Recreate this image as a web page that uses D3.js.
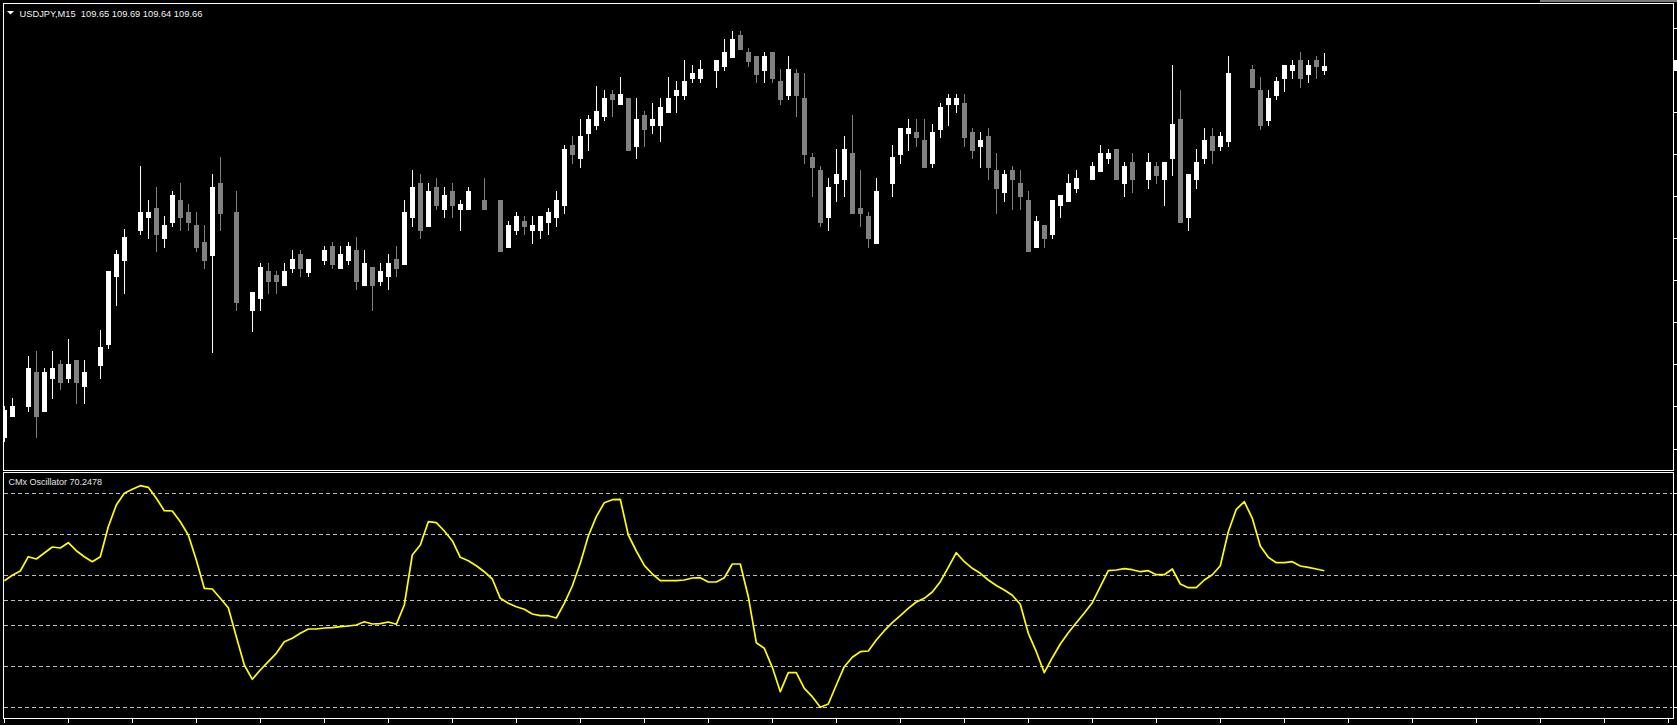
<!DOCTYPE html>
<html><head><meta charset="utf-8">
<script src="https://cdn.jsdelivr.net/npm/d3@7"></script>
<style>html,body{margin:0;padding:0;background:#000;overflow:hidden}</style>
</head><body>
<svg id="c" width="1677" height="725"></svg>
<script>
// ---------- data ----------
const symbolTitle = "USDJPY,M15";
const lastQuote = ["109.65", "109.69", "109.64", "109.66"];
const oscName = "CMx Oscillator";
const oscLast = "70.2478";

// OHLC per bar (null = doji drawn in background colour / invisible)
const openP = [
108.778,108.828,null,108.850,108.932,108.840,108.918,108.951,108.918,108.961,
108.899,null,108.949,108.999,109.161,109.199,null,109.270,109.301,109.322,
109.251,109.289,109.341,109.312,109.281,109.241,109.211,109.381,null,109.312,
null,109.080,109.109,109.172,109.162,109.139,109.180,109.212,109.170,null,
109.199,109.231,109.180,109.199,109.222,109.139,109.182,109.149,109.161,109.200,
109.189,109.301,109.381,109.280,109.372,109.320,109.362,109.320,109.320,null,
109.341,null,109.341,109.230,109.270,109.291,109.270,109.270,109.289,109.301,
109.330,109.471,109.441,109.501,109.520,109.541,109.593,109.570,109.583,109.470,
109.543,109.520,109.520,109.551,109.591,109.591,109.631,109.631,null,109.650,
109.660,109.681,109.733,109.692,109.683,109.650,109.692,109.624,109.591,109.643,
109.583,109.443,109.412,109.301,109.380,109.391,109.452,109.322,109.303,109.239,
null,109.380,109.451,109.501,109.502,109.483,109.429,109.510,109.570,109.570,
109.571,109.502,109.470,109.493,109.412,109.360,109.412,109.381,109.341,109.230,
109.281,109.261,109.330,109.339,109.370,null,109.391,109.410,109.441,109.462,
109.380,109.431,null,109.391,109.422,109.391,109.441,109.533,109.301,109.391,
109.441,109.493,109.469,109.481,null,null,109.652,109.602,109.531,109.590,
109.631,109.650,109.673,109.640,109.673,109.65];
const highP = [
108.850,108.870,null,108.970,108.982,108.942,108.982,108.961,109.010,108.961,
108.961,null,109.032,109.172,109.222,109.272,null,109.422,109.341,109.372,
109.303,109.362,109.381,109.331,109.312,109.281,109.403,109.443,null,109.362,
null,109.122,109.191,109.191,109.172,109.191,109.222,109.222,109.200,null,
109.231,109.241,109.231,109.241,109.253,109.222,109.182,109.191,109.212,109.231,
109.341,109.412,109.403,109.381,109.393,109.372,109.381,109.341,109.372,null,
109.393,null,109.341,109.291,109.312,109.303,109.303,109.303,109.322,109.362,
109.471,109.493,109.533,109.543,109.612,109.602,109.602,109.633,109.583,109.583,
109.552,109.571,109.583,109.633,109.624,109.673,109.662,109.673,null,109.673,
109.723,109.742,109.742,109.702,109.683,109.692,109.692,109.652,109.683,109.652,
109.643,109.452,109.422,109.393,109.462,109.493,109.543,109.412,109.312,109.393,
null,109.471,109.512,109.533,109.533,109.533,109.521,109.571,109.593,109.593,
109.593,109.512,109.502,109.512,109.452,109.412,109.422,109.412,109.362,109.303,
109.281,109.341,109.353,109.403,109.412,null,109.431,109.471,109.462,109.462,
109.431,109.452,null,109.452,109.431,109.431,109.662,109.602,109.403,109.462,
109.512,109.512,109.502,109.683,null,null,109.662,109.633,109.602,109.633,
109.662,109.673,109.692,109.673,109.683,109.69];
const lowP = [
108.768,108.827,null,108.840,108.778,108.840,108.869,108.891,108.909,108.859,
108.859,null,108.918,108.989,109.090,109.120,null,109.261,109.251,109.220,
109.230,109.280,109.270,109.270,109.220,109.180,108.980,109.270,null,109.080,
null,109.030,109.080,109.120,109.120,109.139,109.170,109.161,109.161,null,
109.189,109.180,109.180,109.189,109.130,109.139,109.080,109.139,109.130,109.161,
109.189,109.280,109.251,109.280,109.320,109.301,109.301,109.270,109.320,null,
109.320,null,109.220,109.230,109.261,109.261,109.239,109.251,109.261,109.280,
109.311,109.429,109.420,109.460,109.510,109.532,109.541,109.570,109.460,109.441,
109.470,109.501,109.482,109.551,109.551,109.581,109.622,109.622,null,109.610,
109.650,109.681,109.700,109.660,109.622,109.622,109.622,109.570,109.581,109.541,
109.429,109.351,109.280,109.270,109.339,109.351,109.311,109.280,109.230,109.239,
null,109.351,109.429,109.460,109.470,109.420,109.420,109.491,109.520,109.551,
109.470,109.441,109.420,109.391,109.311,109.339,109.320,109.320,109.220,109.230,
109.230,109.251,109.301,109.339,109.360,null,109.391,109.410,109.429,109.391,
109.351,109.360,null,109.370,109.380,109.330,109.401,109.289,109.270,109.369,
109.429,109.429,109.460,109.469,null,null,109.609,109.509,109.519,109.581,
109.600,109.631,109.609,109.621,109.631,109.64];
const closeP = [
108.842,108.851,null,108.942,108.828,108.932,108.942,108.909,108.951,108.909,
108.932,null,108.991,109.172,109.212,109.253,null,109.312,109.312,109.261,
109.281,109.353,109.301,109.289,109.230,109.199,109.372,109.311,null,109.099,
null,109.122,109.182,109.149,109.149,109.172,109.200,109.180,109.200,null,
109.222,109.189,109.212,109.231,109.149,109.191,109.139,109.172,109.191,109.180,
109.312,109.372,109.270,109.362,109.330,109.353,109.330,109.331,109.362,null,
109.320,null,109.220,109.281,109.303,109.280,109.281,109.303,109.312,109.341,
109.462,109.451,109.493,109.533,109.552,109.583,109.581,109.593,109.460,109.533,
109.510,109.533,109.562,109.583,109.602,109.624,109.643,109.652,null,109.673,
109.692,109.723,109.700,109.672,109.641,109.683,109.631,109.581,109.652,109.591,
109.451,109.420,109.289,109.372,109.403,109.462,109.311,109.311,109.251,109.362,
null,109.443,109.512,109.512,109.491,109.420,109.502,109.562,109.583,109.583,
109.491,109.460,109.483,109.420,109.370,109.403,109.391,109.351,109.220,109.291,
109.251,109.341,109.353,109.381,109.393,null,109.422,109.452,109.452,109.391,
109.422,109.391,null,109.431,109.401,109.431,109.521,109.289,109.403,109.431,
109.483,109.460,109.493,109.643,null,null,109.609,109.519,109.583,109.624,
109.662,109.662,109.631,109.662,109.659,109.66];

// oscillator value per bar
const oscValues = [
60.3,65.7,70.0,84.3,82.0,88.0,94.0,93.0,98.3,90.3,
84.3,79.3,84.3,114.3,136.0,147.7,151.7,155.3,153.7,142.7,
130.3,130.0,119.3,106.0,81.0,52.7,52.0,42.7,33.3,4.3,
-24.0,-38.3,-29.0,-20.7,-12.3,-0.7,2.7,7.7,12.0,12.0,
13.0,13.3,14.3,15.0,16.0,19.3,17.0,17.3,19.0,16.7,
36.0,86.0,96.0,119.3,118.3,110.0,100.3,83.7,80.3,75.3,
69.3,62.0,42.7,37.7,34.3,31.7,27.0,25.3,25.3,23.0,
37.7,55.0,77.7,105.0,124.3,138.3,141.3,141.7,106.0,90.0,
75.7,67.0,60.3,60.3,60.3,61.0,63.0,63.3,59.0,59.0,
63.3,77.0,77.0,44.3,-1.7,-7.3,-26.3,-50.7,-31.7,-31.7,
-47.3,-55.7,-66.3,-63.0,-44.0,-25.7,-16.3,-10.7,-10.0,1.0,
10.3,18.3,25.3,32.7,39.0,42.7,49.0,59.3,73.7,88.3,
79.3,72.7,67.7,61.0,55.5,51.0,45.7,36.7,7.7,-10.7,
-31.7,-16.7,-3.0,8.3,18.3,28.0,38.3,54.3,70.3,71.0,
72.3,71.3,69.3,70.3,66.3,66.3,72.0,57.0,53.3,53.3,
61.0,66.3,75.3,109.3,131.7,139.3,122.7,95.0,83.7,78.3,
78.3,79.3,75.0,73.7,72.0,70.2478];
const oscLevels = [147.7, 106.7, 65.7, 40.7, 15.7, -25.3, -66.3];
const priceTicks = [109.75,109.65,109.55,109.45,109.35,109.25,109.15,109.05,108.95,108.85,108.75];
const timeTickBars = d3.range(0, 209, 8);

// ---------- layout ----------
const L = 3, R = 1673, mainTop = 3, mainBot = 470, oscTop = 472, oscBot = 718;
const svg = d3.select("#c");
svg.append("rect").attr("width",1677).attr("height",725).attr("fill","#000");
// grey window edge visible along the top on the right
svg.append("rect").attr("x",1540).attr("y",0).attr("width",137).attr("height",2).attr("fill","#7a7a7a");

const x = d3.scaleLinear().domain([0, oscValues.length - 1]).range([4.3, 1324.3]);
const py = d3.scaleLinear().domain([108.699, 109.809]).range([mainBot, mainTop]);
const oy = d3.scaleLinear().domain([-77, 168]).range([oscBot, oscTop + 1]);

const defs = svg.append("defs");
defs.append("clipPath").attr("id","mainClip").append("rect")
  .attr("x", L+1).attr("y", mainTop+1).attr("width", R-L-1).attr("height", mainBot-mainTop-1);
defs.append("clipPath").attr("id","oscClip").append("rect")
  .attr("x", L+1).attr("y", oscTop+1).attr("width", R-L-1).attr("height", oscBot-oscTop-1);

// ---------- candles ----------
const bull = "#ffffff", bear = "#808080";
const bars = d3.range(openP.length).filter(i => openP[i] !== null);
const gC = svg.append("g").attr("clip-path","url(#mainClip)").attr("shape-rendering","crispEdges");
gC.selectAll("rect.wick").data(bars).join("rect").attr("class","wick")
  .attr("x", i => Math.round(x(i)))
  .attr("y", i => Math.round(py(highP[i])))
  .attr("width", 1)
  .attr("height", i => Math.max(1, Math.round(py(lowP[i])) - Math.round(py(highP[i])) + 1))
  .attr("fill", i => closeP[i] >= openP[i] ? bull : bear);
gC.selectAll("rect.body").data(bars).join("rect").attr("class","body")
  .attr("x", i => Math.round(x(i)) - 2)
  .attr("y", i => Math.round(py(Math.max(openP[i], closeP[i]))))
  .attr("width", 5)
  .attr("height", i => Math.max(1, Math.round(py(Math.min(openP[i], closeP[i]))) - Math.round(py(Math.max(openP[i], closeP[i]))) + 1))
  .attr("fill", i => closeP[i] >= openP[i] ? bull : bear);

// ---------- oscillator ----------
const gO = svg.append("g").attr("clip-path","url(#oscClip)");
gO.selectAll("line.lvl").data(oscLevels).join("line").attr("class","lvl")
  .attr("x1", L+1).attr("x2", R-1)
  .attr("y1", d => Math.round(oy(d)) + 0.5).attr("y2", d => Math.round(oy(d)) + 0.5)
  .attr("stroke", "#bdbdbd").attr("stroke-width", 1).attr("stroke-dasharray", "4,3");
gO.append("path").datum(oscValues)
  .attr("d", d3.line().x((d,i) => x(i)).y(d => oy(d)))
  .attr("fill","none").attr("stroke","#ffff00").attr("stroke-width",1.7).attr("stroke-linejoin","round");

// ---------- frames ----------
svg.append("rect").attr("x", L+0.5).attr("y", mainTop+0.5).attr("width", R-L).attr("height", mainBot-mainTop)
  .attr("fill","none").attr("stroke","#fff").attr("stroke-width",1).attr("shape-rendering","crispEdges");
svg.append("rect").attr("x", L+0.5).attr("y", oscTop+0.5).attr("width", R-L).attr("height", oscBot-oscTop)
  .attr("fill","none").attr("stroke","#fff").attr("stroke-width",1).attr("shape-rendering","crispEdges");

// ---------- axes (ticks only; labels fall outside the window) ----------
const styleAxis = g => { g.select(".domain").remove(); g.selectAll("line").attr("stroke","#fff"); g.attr("shape-rendering","crispEdges"); };
svg.append("g").attr("transform", `translate(${R+1},0)`)
  .call(d3.axisRight(py).tickValues(priceTicks).tickSize(4).tickFormat(""))
  .call(styleAxis);
svg.append("g").attr("transform", `translate(${R+1},0)`)
  .call(d3.axisRight(oy).tickValues(oscLevels).tickSize(4).tickFormat(""))
  .call(styleAxis);
svg.append("g").attr("transform", `translate(0,${oscBot+1})`)
  .call(d3.axisBottom(x).tickValues(timeTickBars).tickSize(4).tickFormat(""))
  .call(styleAxis);

// bid price marker on the price scale
const lastClose = closeP[closeP.length - 1];
svg.append("rect").attr("x", R+1).attr("y", Math.round(py(lastClose)) - 6).attr("width", 4).attr("height", 10).attr("fill","#fff");

// ---------- texts ----------
svg.append("path").attr("d","M7,11 L14,11 L10.5,14.5 Z").attr("fill","#fff");
svg.append("text").attr("x", 19.5).attr("y", 16.5)
  .attr("font-family","Tahoma, 'Liberation Sans', Arial, sans-serif").attr("font-size", 9.3)
  .attr("fill","#f2f2f2").style("white-space","pre")
  .text(symbolTitle + "  " + lastQuote.join(" "));
svg.append("text").attr("x", 8.5).attr("y", 485)
  .attr("font-family","Tahoma, 'Liberation Sans', Arial, sans-serif").attr("font-size", 9)
  .attr("fill","#e6e6e6").style("white-space","pre")
  .text(oscName + " " + oscLast);
</script>
</body></html>
